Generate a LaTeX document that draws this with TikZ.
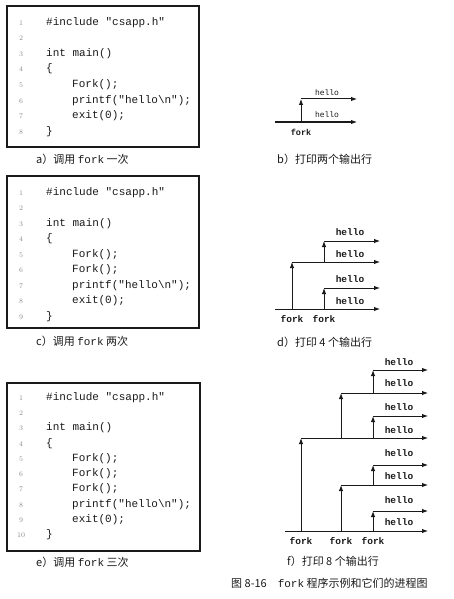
\documentclass[tikz,border=0pt]{standalone}
\usepackage{fontspec}
\setmonofont{Liberation Mono}
\newfontfamily\cjk{Noto Sans CJK SC}
\usetikzlibrary{arrows.meta}
\definecolor{ink}{HTML}{1A1A1A}
\definecolor{numgray}{HTML}{8A8A8A}
\tikzset{
  codebox/.style={draw=ink, line width=1.3pt},
  lnum/.style={anchor=mid, font=\fontsize{7}{8}\selectfont, text=numgray, inner sep=0pt},
  codeline/.style={anchor=mid west, font=\ttfamily\fontsize{11}{12}\selectfont, text=ink, inner sep=0pt},
  procarrow/.style={draw=ink, line width=1pt, -{Latex[length=6pt,width=4.5pt]}},
  hlbl/.style={anchor=mid, font=\ttfamily\bfseries\fontsize{#1}{#1}\selectfont, text=ink, inner sep=0pt},
  hlbl/.default=9.5,
  hlblthin/.style={anchor=mid, font=\ttfamily\fontsize{#1}{#1}\selectfont, text=ink, inner sep=0pt},
  caption/.style={anchor=mid west, font=\cjk\fontsize{11}{12}\selectfont, text=ink, inner sep=0pt},
}
\begin{document}
\begin{tikzpicture}[x=1pt,y=-1pt]
\useasboundingbox (0,0) rectangle (454,599);
\fill[white] (0,0) rectangle (454,599);

% ---------- box a ----------
\draw[codebox] (7,6) rectangle (199,147);
\foreach \i/\t/\ind in {1/{\#include "csapp.h"}/0,2/{}/0,3/{int main()}/0,4/{\{}/0,5/{Fork();}/1,6/{printf("hello\textbackslash n");}/1,7/{exit(0);}/1,8/{\}}/0}{
  \node[lnum] (an\i) at (21,{23+15.6*(\i-1)}) {\i};
  \node[codeline] (ac\i) at ({46+26*\ind},{23+15.6*(\i-1)}) {\t};
}
\node[caption] (capa) at (36,161) {a）调用 \texttt{fork} 一次};

% ---------- box c ----------
\draw[codebox] (7,176) rectangle (199,328);
\foreach \i/\t/\ind in {1/{\#include "csapp.h"}/0,2/{}/0,3/{int main()}/0,4/{\{}/0,5/{Fork();}/1,6/{Fork();}/1,7/{printf("hello\textbackslash n");}/1,8/{exit(0);}/1,9/{\}}/0}{
  \node[lnum] (cn\i) at (21,{193+15.5*(\i-1)}) {\i};
  \node[codeline] (cc\i) at ({46+26*\ind},{193+15.5*(\i-1)}) {\t};
}
\node[caption] (capc) at (36,343) {c）调用 \texttt{fork} 两次};

% ---------- box e ----------
\draw[codebox] (7,383) rectangle (200,551);
\foreach \i/\t/\ind in {1/{\#include "csapp.h"}/0,2/{}/0,3/{int main()}/0,4/{\{}/0,5/{Fork();}/1,6/{Fork();}/1,7/{Fork();}/1,8/{printf("hello\textbackslash n");}/1,9/{exit(0);}/1,10/{\}}/0}{
  \node[lnum] (en\i) at (21,{398+15.3*(\i-1)}) {\i};
  \node[codeline] (ec\i) at ({46+26*\ind},{398+15.3*(\i-1)}) {\t};
}
\node[caption] (cape) at (36,564) {e）调用 \texttt{fork} 三次};

% ---------- graph b ----------
\coordinate (b0) at (275,122);
\coordinate (bf) at (301,122);
\coordinate (bt) at (301,99);
\coordinate (be0) at (357,122);
\coordinate (be1) at (357,99);
\draw[procarrow] (b0) -- (be0);
\draw[procarrow] (bt) -- (be1);
\draw[procarrow] (bf) -- (bt);
\node[hlblthin=8] (bh1) at (327,93) {hello};
\node[hlblthin=8] (bh0) at (327,115) {hello};
\node[hlbl=8.5] (bfk) at (301,133) {fork};
\node[caption] (capb) at (277,161) {b）打印两个输出行};

% ---------- graph d ----------
\coordinate (d0) at (275,309);
\coordinate (d1b) at (292,309);
\coordinate (d1t) at (292,262);
\coordinate (d2b) at (324,309);
\coordinate (d2t) at (324,288);
\coordinate (d3b) at (324,262);
\coordinate (d3t) at (324,241);
\coordinate (de0) at (380,309);
\coordinate (de1) at (380,288);
\coordinate (de2) at (380,262);
\coordinate (de3) at (380,241);
\draw[procarrow] (d0) -- (de0);
\draw[procarrow] (d2t) -- (de1);
\draw[procarrow] (d1t) -- (de2);
\draw[procarrow] (d3t) -- (de3);
\draw[procarrow] (d1b) -- (d1t);
\draw[procarrow] (d2b) -- (d2t);
\draw[procarrow] (d3b) -- (d3t);
\foreach \y [count=\k] in {233,255,280,302}{
  \node[hlbl] (dh\k) at (350,\y) {hello};
}
\node[hlbl] (dfk1) at (292,320) {fork};
\node[hlbl] (dfk2) at (324,320) {fork};
\node[caption] (capd) at (277,344) {d）打印 4 个输出行};

% ---------- graph f ----------
\coordinate (f0) at (285,531);
\foreach \y [count=\k] in {531,511,485,465,438,416,393,370}{
  \coordinate (fe\k) at (428,\y);
}
\coordinate (fa1) at (373,531); \coordinate (fa2) at (373,511);
\coordinate (fb1) at (341,531); \coordinate (fb2) at (341,485);
\coordinate (fc1) at (373,485); \coordinate (fc2) at (373,465);
\coordinate (fd1) at (301,531); \coordinate (fd2) at (301,438);
\coordinate (fg1) at (373,438); \coordinate (fg2) at (373,416);
\coordinate (fh1) at (341,438); \coordinate (fh2) at (341,393);
\coordinate (fi1) at (373,393); \coordinate (fi2) at (373,370);
\draw[procarrow] (f0) -- (fe1);
\draw[procarrow] (fa2) -- (fe2);
\draw[procarrow] (fb2) -- (fe3);
\draw[procarrow] (fc2) -- (fe4);
\draw[procarrow] (fd2) -- (fe5);
\draw[procarrow] (fg2) -- (fe6);
\draw[procarrow] (fh2) -- (fe7);
\draw[procarrow] (fi2) -- (fe8);
\foreach \p in {fa,fb,fc,fd,fg,fh,fi}{
  \draw[procarrow] (\p1) -- (\p2);
}
\foreach \y [count=\k] in {523,501,477,454,431,408,384,363}{
  \node[hlbl] (fl\k) at (399,\y) {hello};
}
\node[hlbl] (ffk1) at (301,542) {fork};
\node[hlbl] (ffk2) at (341,542) {fork};
\node[hlbl] (ffk3) at (373,542) {fork};
\node[caption] (capf) at (287,563) {f）打印 8 个输出行};

% ---------- figure caption ----------
\node[caption] (figcap) at (231,585) {图 8-16\quad \texttt{fork} 程序示例和它们的进程图};
\end{tikzpicture}
\end{document}
